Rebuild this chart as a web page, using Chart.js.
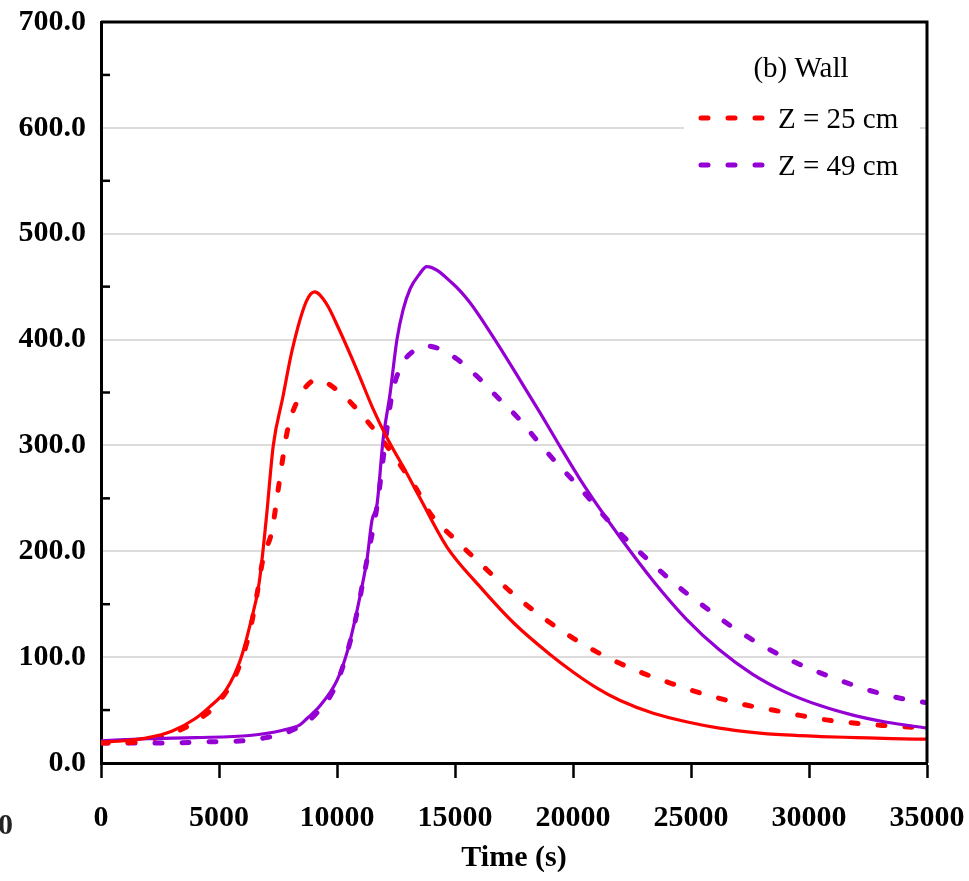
<!DOCTYPE html>
<html>
<head>
<meta charset="utf-8">
<script src="https://cdn.jsdelivr.net/npm/chart.js@4.4.1/dist/chart.umd.min.js"></script>
<style>
  html,body{margin:0;padding:0;background:#fff;}
  #wrap{width:969px;height:881px;}
</style>
</head>
<body>
<div id="wrap"><canvas id="c" width="969" height="881"></canvas></div>
<script>
/* ---------- data (time in s, temperature) ---------- */
const redSolidT = [0,1000,2000,3000,4000,4600,5300,5900,6300,6700,7000,7300,7700,8100,8700,9050,9550,10100,10850,11500,12100,12950,13500,14660,16000,17500,19000,20000,21000,22000,23400,24800,26200,27600,29000,30500,32000,33500,35000];
const redSolidV = [20,21,24,30,42,53,69,97,129,170,230,300,345,390,436,445,434,409,371,336,308,274,251,204,168,132,103,86,71,59,47,39,33,29,26.5,25,24,23,22.5];

const redDashT = [0,1000,2000,3000,4000,5000,5800,6300,6600,6860,7250,7460,7670,7880,8300,9150,10130,10970,11820,12540,13390,13940,14920,16000,17500,19000,20000,21000,22000,23000,24000,25040,26140,27290,28470,29620,30800,32000,33100,35000];
const redDashV = [19,19,22,28,39,58,88,124,158,192,220,251,283,312,341,362,350,331,308,286,258,236,213,190,159,133,118,105,94,84.5,76.5,68.5,61.5,55,50,45,40.5,37.5,35.5,33];

const purpleSolidT = [0,1000,2000,4000,6300,7700,8430,8730,9280,10000,10420,10760,11060,11270,11480,11700,11950,12250,12540,12800,13100,13500,13800,14900,15630,16600,17750,18600,19450,20300,21140,22000,23400,24800,26200,27600,29000,30500,31900,33300,35000];
const purpleSolidV = [21,22,23,24,26,31,36,42,54,78,104,135,167,192,229,245,305,349,400,428,448,462,469,453,435,403,362,331,299,268,240,213,172,136,107,84,67,54,45,38.5,33];

const purpleDashT = [0,1500,3000,4500,6000,7000,8000,9000,10000,10760,11270,11700,12000,12330,12800,13300,13810,14920,15850,16780,17630,18470,19320,20170,21020,21860,22840,23770,24660,25670,26650,27630,28770,29830,30970,32080,33300,34400,35000];
const purpleDashV = [19,19,19,20,21,24,30,44,76,133,192,243,295,348,378,390,394,384,367,346,327,305,283,263,241,220,199,180,163,146,130,116,102,91,81,72,64,59,57];

const xTicks = [0,5000,10000,15000,20000,25000,30000,35000];
const yMinor = [50,150,250,350,450,550,650];
const legendTitle = '(b) Wall';
const legendLabels = ['Z = 25 cm','Z = 49 cm'];

const RED = '#ff0000', PURPLE = '#9400d3';
const FONT = 'Liberation Serif';

function pts(t, v){ return t.map((x,i)=>({x, y:v[i]})); }

/* frame, minor ticks, legend box, stray label */
const decor = {
  id:'decor',
  afterDraw(chart){
    const {ctx, chartArea:a, scales:{y}} = chart;
    ctx.save();
    ctx.strokeStyle = '#000'; ctx.lineWidth = 3;
    ctx.beginPath();
    ctx.moveTo(a.left, a.top); ctx.lineTo(a.right, a.top); ctx.lineTo(a.right, a.bottom);
    ctx.stroke();
    ctx.lineWidth = 2.5;
    yMinor.forEach(v=>{
      const py = y.getPixelForValue(v);
      ctx.beginPath(); ctx.moveTo(a.left, py); ctx.lineTo(a.left+9, py); ctx.stroke();
    });
    // legend
    ctx.fillStyle = '#fff'; ctx.fillRect(684, 40, 236, 150);
    ctx.fillStyle = '#000'; ctx.textBaseline = 'middle';
    ctx.font = `29px "${FONT}"`;
    ctx.textAlign = 'center'; ctx.fillText(legendTitle, 801, 69);
    ctx.textAlign = 'left';
    [[RED,118],[PURPLE,165]].forEach((e,i)=>{
      ctx.strokeStyle = e[0]; ctx.lineWidth = 5; ctx.lineCap = 'round'; ctx.setLineDash([7,20]);
      ctx.beginPath(); ctx.moveTo(701, e[1]); ctx.lineTo(763, e[1]); ctx.stroke();
      ctx.setLineDash([]);
      ctx.fillText(legendLabels[i], 778, e[1]+2);
    });
    ctx.font = `bold 30px "${FONT}"`; ctx.fillStyle = '#222';
    ctx.fillText('0', -2, 826);
    ctx.restore();
  }
};

const line = (data, color, dashed) => ({
  data, borderColor:color, borderWidth: dashed ? 5 : 3.2, pointRadius:0,
  borderDash: dashed ? [7,20] : [], borderCapStyle: dashed ? 'round' : 'butt',
  cubicInterpolationMode:'monotone', fill:false
});

new Chart(document.getElementById('c'), {
  type:'line',
  data:{ datasets:[
    line(pts(redSolidT, redSolidV), RED, false),
    line(pts(purpleSolidT, purpleSolidV), PURPLE, false),
    line(pts(redDashT, redDashV), RED, true),
    line(pts(purpleDashT, purpleDashV), PURPLE, true)
  ]},
  options:{
    responsive:false, animation:false, devicePixelRatio:1,
    layout:{ padding:{left:0, top:22, right:42, bottom:0} },
    plugins:{ legend:{display:false}, tooltip:{enabled:false} },
    scales:{
      x:{
        type:'linear', min:0, max:35000,
        afterFit(s){ s.height = 118; s.paddingLeft = 0; s.paddingRight = 0; },
        afterBuildTicks(s){ s.ticks = xTicks.map(v=>({value:v})); },
        ticks:{ callback:v=>String(v), color:'#000', padding:22, maxRotation:0,
                font:{family:FONT, size:30, weight:'bold'} },
        grid:{ drawOnChartArea:false, drawTicks:true, tickLength:15, tickColor:'#000', tickWidth:2.5 },
        border:{ display:true, color:'#000', width:3 },
        title:{ display:true, text:'Time (s)', color:'#000', padding:{top:0,bottom:5},
                font:{family:FONT, size:30, weight:'bold'} }
      },
      y:{
        min:0, max:700,
        afterFit(s){ s.width = 101; s.paddingTop = 0; s.paddingBottom = 0; },
        ticks:{ stepSize:100, callback:v=>v.toFixed(1), color:'#000', padding:15,
                font:{family:FONT, size:30, weight:'bold'} },
        grid:{ drawTicks:false, lineWidth:2,
               color:c => (c.tick.value===0 || c.tick.value===700) ? 'rgba(0,0,0,0)' : '#dcdcdc' },
        border:{ display:true, color:'#000', width:3 }
      }
    }
  },
  plugins:[decor]
});
</script>
</body>
</html>
